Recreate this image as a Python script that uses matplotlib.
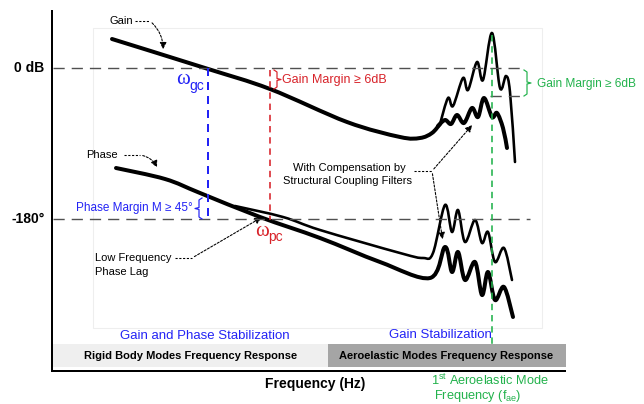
import matplotlib
matplotlib.use("Agg")
import matplotlib.pyplot as plt
import numpy as np
from matplotlib.patches import Rectangle, FancyArrowPatch, PathPatch
from matplotlib.path import Path

plt.rcParams['font.family'] = ['Liberation Sans', 'DejaVu Sans']
plt.rcParams['mathtext.fontset'] = 'custom'
plt.rcParams['mathtext.rm'] = 'Liberation Sans'
plt.rcParams['mathtext.it'] = 'Liberation Sans:italic'

# ---- schematic Bode curves (frequency position, level position) ----
gain_x = [112, 205, 270, 347, 400, 420, 432, 440]
gain_y = [39, 68, 89, 122, 137, 138, 133, 124]

gain_unfiltered_x = [440, 448, 453, 463, 468, 477, 483, 492, 500, 506, 510, 515]
gain_unfiltered_y = [124, 98, 106, 78, 90, 62, 80, 33, 88, 76, 92, 162]

gain_filtered_x = [438, 445, 451, 457, 464, 472, 478, 484, 492, 497, 503, 507]
gain_filtered_y = [126, 120, 124, 115, 123, 108, 117, 98, 117, 113, 128, 148]

phase_x = [116, 165, 200, 260, 320, 380, 430, 445, 452, 458, 465, 475, 482, 488, 495, 504, 513]
phase_y = [168, 179, 193, 217, 238, 262, 278, 247, 272, 252, 280, 262, 295, 272, 300, 287, 317]

phase_unfiltered_x = [235, 283, 320, 400, 423, 433, 445, 452, 458, 465, 475, 482, 488, 495, 504, 512]
phase_unfiltered_y = [206, 217, 230, 253, 258, 253, 205, 232, 210, 242, 220, 243, 232, 262, 248, 280]

# reference levels and crossover frequencies
zero_db_level = 68
minus180_level = 219
gain_margin_level = 96
omega_gc = 208
omega_pc = 270
f_ae = 492

fig = plt.figure(figsize=(6.44, 4.04), dpi=100)
ax = fig.add_axes([0, 0, 1, 1])
ax.set_xlim(0, 644)
ax.set_ylim(404, 0)
ax.axis('off')

PX = 0.72  # one pixel in points

BLUE = '#2323f5'
RED = '#d8232a'
GREEN = '#22b24c'
DASH_GRAY = '#505050'


def smooth_curve(xs, ys, lw):
    """Draw a smooth cubic Bezier path passing through every given point."""
    p = np.column_stack([xs, ys]).astype(float)
    ext = np.vstack([p[0], p, p[-1]])
    verts = [p[0]]
    codes = [Path.MOVETO]
    for i in range(len(p) - 1):
        p0, p1, p2, p3 = ext[i], ext[i + 1], ext[i + 2], ext[i + 3]
        verts += [p1 + (p2 - p0) / 6.0, p2 - (p3 - p1) / 6.0, p2]
        codes += [Path.CURVE4] * 3
    ax.add_patch(PathPatch(Path(verts, codes), fc='none', ec='black', lw=lw,
                           joinstyle='round', capstyle='round'))


# faint plot frame
ax.add_patch(Rectangle((93, 28), 449, 300, fill=False, ec='#eeeeee', lw=0.8))

# bottom bands
ax.add_patch(Rectangle((52, 344), 276, 23, fc='#efefef', ec='none'))
ax.add_patch(Rectangle((328, 344), 238, 23, fc='#a5a5a5', ec='none'))

# axes lines
ax.plot([52, 52], [10, 372], color='black', lw=2 * PX, solid_capstyle='butt')
ax.plot([52, 566], [371, 371], color='black', lw=2 * PX, solid_capstyle='butt')

dash = (0, (8, 5))
ax.plot([53, 523], [zero_db_level, zero_db_level], color=DASH_GRAY, lw=1.4 * PX, linestyle=dash)
ax.plot([53, 530], [minus180_level, minus180_level], color=DASH_GRAY, lw=1.4 * PX, linestyle=dash)
ax.plot([490, 523], [gain_margin_level, gain_margin_level], color=DASH_GRAY, lw=1.4 * PX, linestyle=dash)

# crossover verticals
ax.plot([omega_gc, omega_gc], [zero_db_level, minus180_level], color=BLUE, lw=2 * PX, linestyle=(0, (4, 3)))
ax.plot([omega_pc, omega_pc], [zero_db_level + 2, minus180_level + 1], color=RED, lw=1.6 * PX, linestyle=(0, (4, 3)))
ax.plot([f_ae, f_ae], [35, 344], color=GREEN, lw=1.6 * PX, linestyle=(0, (4, 3)))

# curves
smooth_curve(gain_x, gain_y, 4 * PX)
smooth_curve(gain_unfiltered_x, gain_unfiltered_y, 2.6 * PX)
smooth_curve(gain_filtered_x, gain_filtered_y, 4 * PX)
smooth_curve(phase_unfiltered_x, phase_unfiltered_y, 2.6 * PX)
smooth_curve(phase_x, phase_y, 4 * PX)


def bracket(x, y0, y1, tip, color):
    """Curly-style bracket; tip>0 points right, tip<0 points left."""
    ym = (y0 + y1) / 2
    h = -3 if tip > 0 else 3
    xs = [x + h, x, x, x + tip, x, x, x + h]
    ys = [y0, y0 + 2, ym - 1, ym, ym + 1, y1 - 2, y1]
    ax.plot(xs, ys, color=color, lw=1.2 * PX, solid_joinstyle='round')


bracket(277, 70, 89, 4, RED)
bracket(199, 198, 219, -4, BLUE)
bracket(527, 70, 96, 4, GREEN)

# axis labels
ax.text(44, 68, '0 dB', ha='right', va='center', fontsize=10, fontweight='bold')
ax.text(45, 219, '-180°', ha='right', va='center', fontsize=10, fontweight='bold')
ax.text(315, 384, 'Frequency (Hz)', ha='center', va='center', fontsize=10, fontweight='bold')

# band titles
ax.text(191, 356, 'Rigid Body Modes Frequency Response', ha='center', va='center', fontsize=8, fontweight='bold')
ax.text(446, 356, 'Aeroelastic Modes Frequency Response', ha='center', va='center', fontsize=8, fontweight='bold')
ax.text(205, 336, 'Gain and Phase Stabilization', ha='center', va='center', fontsize=9.5, color=BLUE)
ax.text(440, 335, 'Gain Stabilization', ha='center', va='center', fontsize=9.5, color=BLUE)

# margins
ax.text(282, 80, 'Gain Margin ≥ 6dB', ha='left', va='center', fontsize=9, color=RED)
ax.text(537, 84, 'Gain Margin ≥ 6dB', ha='left', va='center', fontsize=8.6, color=GREEN)
ax.text(193, 208, 'Phase Margin M ≥ 45°', ha='right', va='center', fontsize=8.5, color=BLUE)

# crossover symbols
ax.text(176, 80, 'ω', ha='left', va='center', fontsize=15, color=BLUE, family='Liberation Serif')
ax.text(189, 86, 'gc', ha='left', va='center', fontsize=10, color=BLUE)
ax.text(255, 231, 'ω', ha='left', va='center', fontsize=15, color=RED, family='Liberation Serif')
ax.text(268, 237, 'pc', ha='left', va='center', fontsize=10, color=RED)

# first aeroelastic mode label
ax.text(431, 388, r'1$^{\mathrm{st}}$ Aeroelastic Mode', ha='left', va='bottom', fontsize=9.2, color=GREEN)
ax.text(434, 388.5, r'Frequency (f$_{\mathrm{ae}}$)', ha='left', va='top', fontsize=9.2, color=GREEN)

# curve annotations
ann_kw = dict(color='black', lw=0.9 * PX * 1.2, linestyle=(0, (2, 1.5)))
ax.text(110, 21, 'Gain', ha='left', va='center', fontsize=8)
ax.plot([135, 150], [21, 21], **ann_kw)
ax.add_patch(FancyArrowPatch((150, 21), (163, 52), arrowstyle='-|>,head_length=4,head_width=2',
                             connectionstyle='arc3,rad=-0.25', mutation_scale=1, **ann_kw))

ax.text(86, 155, 'Phase', ha='left', va='center', fontsize=8)
ax.plot([124, 140], [155, 155], **ann_kw)
ax.add_patch(FancyArrowPatch((140, 155), (158, 170), arrowstyle='-|>,head_length=4,head_width=2',
                             connectionstyle='arc3,rad=-0.3', mutation_scale=1, **ann_kw))

ax.text(95, 258, 'Low Frequency', ha='left', va='center', fontsize=8)
ax.text(95, 272, 'Phase Lag', ha='left', va='center', fontsize=8)
ax.plot([175, 192], [258, 258], **ann_kw)
ax.add_patch(FancyArrowPatch((192, 258), (264, 216), arrowstyle='-|>,head_length=4,head_width=2',
                             mutation_scale=1, **ann_kw))

ax.text(349, 168, 'With Compensation by', ha='center', va='center', fontsize=8)
ax.text(348, 181, 'Structural Coupling Filters', ha='center', va='center', fontsize=8)
ax.plot([414, 432], [171, 171], **ann_kw)
ax.add_patch(FancyArrowPatch((432, 171), (474, 123), arrowstyle='-|>,head_length=4,head_width=2',
                             mutation_scale=1, **ann_kw))
ax.add_patch(FancyArrowPatch((432, 171), (443, 242), arrowstyle='-|>,head_length=4,head_width=2',
                             mutation_scale=1, **ann_kw))

fig.savefig('out.png', dpi=100)
